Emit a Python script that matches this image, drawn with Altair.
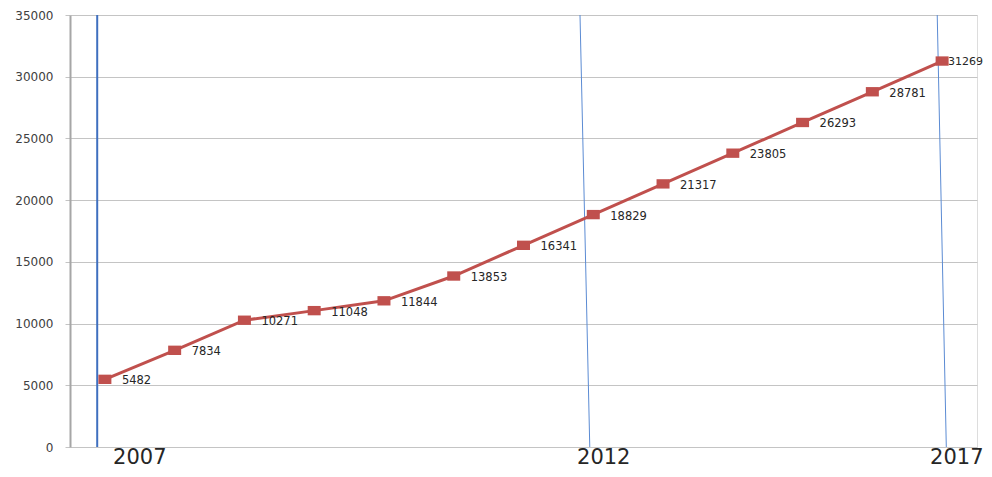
import altair as alt
import pandas as pd

# ---- data ----
values = [5482, 7834, 10271, 11048, 11844, 13853, 16341, 18829, 21317, 23805, 26293, 28781, 31269]
point_index = list(range(len(values)))
year_labels = ["2007", "2012", "2017"]
year_label_pos = [0.50, 7.15, 12.21]      # in category-index units
divider_top = [-0.11, 6.81, 11.93]        # blue divider lines, index units at top
divider_bottom = [-0.11, 6.95, 12.06]     # and at bottom
y_ticks = [0, 5000, 10000, 15000, 20000, 25000, 30000, 35000]

last = len(values) - 1
df = pd.DataFrame({"idx": point_index, "value": values, "label": [str(v) for v in values]})
years_df = pd.DataFrame({"pos": year_label_pos, "year": year_labels})
div_df = pd.DataFrame({
    "n": list(range(len(divider_top))),
    "top": divider_top,
    "bottom": divider_bottom,
    "ytop": [max(y_ticks)] * len(divider_top),
    "ybot": [min(y_ticks)] * len(divider_top),
})

FONT = "DejaVu Sans"
xscale = alt.Scale(domain=[-0.5, len(values) - 0.5], nice=False, zero=False)
yscale = alt.Scale(domain=[min(y_ticks), max(y_ticks)], nice=False)

yaxis = alt.Axis(
    values=y_ticks, format="d", title=None, grid=True, gridColor="#C4C4C4", gridWidth=1,
    domainColor="#A6A6A6", domainWidth=2, tickColor="#C4C4C4", tickSize=5,
    labelPadding=12, labelFont=FONT, labelFontSize=12, labelColor="#404040",
)

base = alt.Chart(df)
X = alt.X("idx:Q", scale=xscale, axis=None)
Y = alt.Y("value:Q", scale=yscale)

line = base.mark_line(color="#C0504D", strokeWidth=3).encode(
    x=X, y=alt.Y("value:Q", scale=yscale, axis=yaxis),
)

pts = base.mark_point(
    shape="M-1,-0.72L1,-0.72L1,0.72L-1,0.72Z", size=169, filled=True,
    color="#C0504D", opacity=1,
).encode(x=X, y=Y)

labels = base.transform_filter(alt.datum.idx < last).mark_text(
    align="left", baseline="middle", dx=17, dy=2, font=FONT, fontSize=11.5, color="#262626",
).encode(x=X, y=Y, text="label:N")

last_label = base.transform_filter(alt.datum.idx == last).mark_text(
    align="left", baseline="middle", dx=6, dy=1, font=FONT, fontSize=11, color="#262626",
).encode(x=X, y=Y, text="label:N")

dividers = alt.Chart(div_df).mark_rule().encode(
    x=alt.X("top:Q", scale=xscale, axis=None),
    x2="bottom:Q",
    y=alt.Y("ytop:Q", scale=yscale),
    y2="ybot:Q",
    color=alt.condition(alt.datum.n == 0, alt.value("#3F6FBF"), alt.value("#5B8BD3")),
    strokeWidth=alt.condition(alt.datum.n == 0, alt.value(2), alt.value(1)),
)

years = alt.Chart(years_df).mark_text(
    align="center", baseline="alphabetic", font=FONT, fontSize=21, color="#262626",
).encode(
    x=alt.X("pos:Q", scale=xscale, axis=None),
    y=alt.value(449),
    text="year:N",
)

chart = alt.layer(dividers, line, pts, labels, last_label, years).properties(
    width=907, height=432,
    autosize=alt.AutoSizeParams(type="none"),
    padding={"left": 62, "top": 7, "right": 7, "bottom": 22},
).configure_view(stroke=None).configure(background="white")

chart.save("out.html", embed_options={"renderer": "svg", "actions": False})
